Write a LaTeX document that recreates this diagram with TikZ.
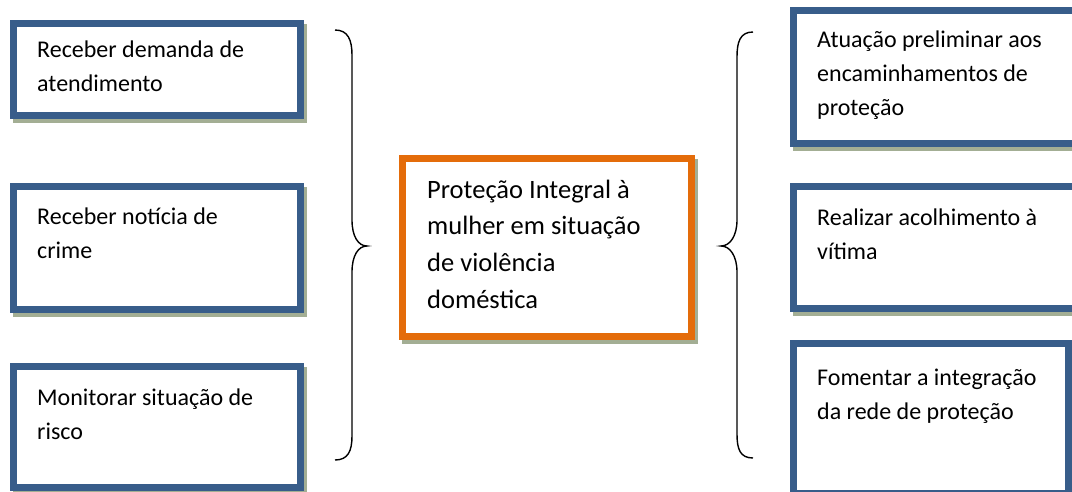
\documentclass[tikz,border=0pt]{standalone}
\usepackage{fontspec}
\setmainfont{Carlito}
\definecolor{boxblue}{HTML}{385D8A}
\definecolor{boxorange}{HTML}{E46C0A}
\definecolor{shadowgreen}{HTML}{A3AE94}
\tikzset{
  panel/.style={draw=#1, fill=white, line width=7pt, inner sep=0pt, outer sep=0pt, anchor=north west,
    preaction={draw=shadowgreen, line width=7pt, transform canvas={shift={(3pt,-4pt)}}}},
  sidetext/.style={anchor=base west, inner sep=0pt},
  brace/.style={draw=black, line width=1.4pt},
}
\newcommand{\sidepar}[1]{\parbox[t]{270pt}{\raggedright\fontsize{24}{34}\selectfont #1}}
\newcommand{\centerpar}[1]{\parbox[t]{270pt}{\raggedright\fontsize{26.5}{36.7}\selectfont #1}}
\begin{document}
\begin{tikzpicture}[x=1pt,y=-1pt]
\useasboundingbox (0,0) rectangle (1072,491);
\clip (0,0) rectangle (1072,491);
% left boxes
\node[panel=boxblue, minimum width=287pt, minimum height=92pt] (l1) at (13.5,23.5) {};
\node[panel=boxblue, minimum width=287pt, minimum height=123pt] (l2) at (13.5,186.5) {};
\node[panel=boxblue, minimum width=287pt, minimum height=121pt] (l3) at (13.5,366.5) {};
% center box
\node[panel=boxorange, minimum width=289pt, minimum height=178pt] (c) at (402.5,158.5) {};
% right boxes
\node[panel=boxblue, minimum width=290pt, minimum height=133pt] (r1) at (793.5,10.5) {};
\node[panel=boxblue, minimum width=290pt, minimum height=122pt] (r2) at (793.5,186.5) {};
\node[panel=boxblue, minimum width=275pt, minimum height=150pt] (r3) at (793.5,343.5) {};
% texts
\node[sidetext] (tl1) at (37,57) {\sidepar{Receber demanda de\\atendimento}};
\node[sidetext] (tl2) at (37,224) {\sidepar{Receber notícia de\\crime}};
\node[sidetext] (tl3) at (37,405) {\sidepar{Monitorar situação de\\risco}};
\node[sidetext] (tc) at (427,198) {\centerpar{Proteção Integral à\\mulher em situação\\de violência\\doméstica}};
\node[sidetext] (tr1) at (817,47) {\sidepar{Atuação preliminar aos\\encaminhamentos de\\proteção}};
\node[sidetext] (tr2) at (817,225) {\sidepar{Realizar acolhimento à\\vítima}};
\node[sidetext] (tr3) at (817,385) {\sidepar{Fomentar a integração\\da rede de proteção}};
% braces
\draw[brace] (335,30) .. controls (348,30) and (352,40) .. (352,55)
  -- (352,220) .. controls (352,236) and (358,246) .. (367,246)
  .. controls (358,246) and (352,256) .. (352,272)
  -- (352,436) .. controls (352,451) and (348,460) .. (335,460);
\draw[brace] (753,32) .. controls (740,32) and (737,42) .. (737,57)
  -- (737,220) .. controls (737,236) and (730,246) .. (721,246)
  .. controls (730,246) and (737,256) .. (737,272)
  -- (737,434) .. controls (737,449) and (740,458) .. (753,458);
\end{tikzpicture}
\end{document}
